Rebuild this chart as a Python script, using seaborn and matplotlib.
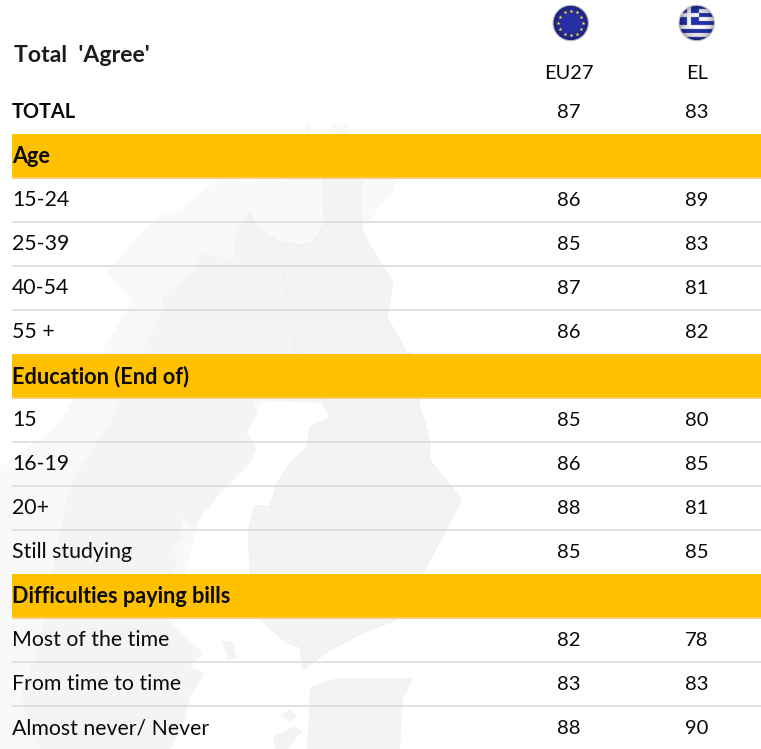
# chart: Total 'Agree' table, EU27 vs EL
import numpy as np
import pandas as pd
import seaborn as sns
import matplotlib.pyplot as plt
from matplotlib.colors import ListedColormap
from matplotlib.patches import Circle, Polygon

sns.set_theme(style="white")
plt.rcParams['font.family'] = ['Lato', 'DejaVu Sans']

# data
title = "Total  'Agree'"
countries = ['EU27', 'EL']
rows = ['TOTAL', 'Age', '15-24', '25-39', '40-54', '55 +', 'Education (End of)', '15', '16-19', '20+',
        'Still studying', 'Difficulties paying bills', 'Most of the time', 'From time to time',
        'Almost never/ Never']
sections = ['Age', 'Education (End of)', 'Difficulties paying bills']
eu27 = [87, None, 86, 85, 87, 86, None, 85, 86, 88, 85, None, 82, 83, 88]
el = [83, None, 89, 83, 81, 82, None, 80, 85, 81, 85, None, 78, 83, 90]

# background map outlines (image pixels), only decoration
land = [(250, 182), (300, 178), (397, 178), (393, 190), (387, 200), (362, 227), (293, 350), (205, 500), (150, 700),
        (110, 749), (0, 749), (0, 467), (53, 430), (67, 410), (107, 343), (133, 300), (107, 273), (137, 237),
        (157, 217), (180, 210), (213, 183)]
sweden = [(248, 213), (267, 250), (283, 270), (288, 300), (297, 327), (293, 350), (330, 377), (323, 403), (253, 400),
          (257, 413), (247, 433), (257, 450), (247, 467), (217, 497), (193, 527), (180, 517), (183, 537), (172, 547),
          (178, 560), (173, 573), (167, 620), (203, 653), (190, 667), (205, 673), (190, 697), (183, 727), (170, 749),
          (40, 749), (20, 700), (40, 640), (67, 497), (77, 473), (110, 423), (120, 400), (143, 350), (160, 317),
          (163, 297), (193, 270), (200, 253), (233, 260), (237, 227)]
finland = [(323, 178), (362, 178), (362, 227), (365, 237), (393, 283), (387, 317), (407, 353), (413, 353), (420, 407),
           (430, 440), (430, 460), (462, 500), (423, 573), (397, 620), (363, 633), (330, 650), (303, 670), (300, 647),
           (287, 643), (257, 617), (250, 573), (248, 530), (255, 505), (270, 507), (277, 483), (290, 463), (307, 447),
           (310, 427), (330, 417), (323, 403), (330, 377), (293, 350), (297, 327), (288, 300), (283, 270), (267, 250),
           (248, 213), (263, 232), (280, 242), (300, 245), (313, 243), (325, 223), (323, 197)]
estonia = [(310, 687), (337, 678), (413, 678), (403, 700), (400, 749), (307, 749)]
islands = [[(273, 737), (293, 727), (303, 730), (287, 749), (275, 749)],
           [(280, 715), (290, 709), (297, 716), (289, 722)],
           [(222, 640), (232, 642), (237, 658), (228, 660)]]
north_bits = [[(305, 128), (309, 123), (311, 130), (307, 134)],
              [(325, 134), (333, 125), (347, 124), (352, 134)]]

W, H = 761, 749
fig = plt.figure(figsize=(W / 100, H / 100), dpi=100)


def box(x0, y0, x1, y1):
    return [x0 / W, 1 - y1 / H, (x1 - x0) / W, (y1 - y0) / H]


# map + flags, axes in image pixels
ax_map = fig.add_axes([0, 0, 1, 1], zorder=0)
ax_map.axis('off')
ax_map.add_patch(Polygon(land, fc='#f9f9f9', ec='none'))
ax_map.add_patch(Polygon(sweden, fc='#f4f4f4', ec='none'))
ax_map.add_patch(Polygon(finland, fc='#f3f3f3', ec='#eeeeee', lw=0.5))
ax_map.add_patch(Polygon(estonia, fc='#f3f3f3', ec='none'))
for isl in islands:
    ax_map.add_patch(Polygon(isl, fc='#f3f3f3', ec='none'))
for isl in north_bits:
    ax_map.add_patch(Polygon(isl, fc='#f9f9f9', ec='none'))


def flag(img, cx, cy, r):
    # darken towards the rim so it looks like a ball
    n = img.shape[0]
    yy, xx = np.mgrid[-1:1:n * 1j, -1:1:n * 1j]
    d = np.clip(np.sqrt(xx ** 2 + yy ** 2), 0, 1)
    shade = (1 - 0.35 * d ** 3)[..., None]
    im = ax_map.imshow(img * shade, extent=(cx - r, cx + r, cy + r, cy - r), aspect='auto', zorder=3)
    im.set_clip_path(Circle((cx, cy), r, transform=ax_map.transData))
    ax_map.add_patch(Circle((cx, cy), r, fc='none', ec='#b9bdd0', lw=0.8, zorder=4))


navy = np.array([0.16, 0.19, 0.66])
eu_img = np.ones((90, 90, 3)) * navy
flag(eu_img, 570.7, 23, 17.7)
ang = np.deg2rad(np.arange(0, 360, 30))
ax_map.scatter(570.7 + 12.3 * np.cos(ang), 23 + 12.3 * np.sin(ang), marker='*', s=9, color='#f2dc3a', lw=0, zorder=5)

blue = np.array([0.14, 0.2, 0.66])
gr_img = np.ones((90, 90, 3))
for k in range(90):
    if int(k / 10) % 2 == 0:
        gr_img[k, :] = blue
gr_img[:50, :50] = blue
gr_img[20:30, :50] = 1
gr_img[:50, 20:30] = 1
flag(gr_img, 696.7, 23, 17.7)

ax_map.set_xlim(0, W)
ax_map.set_ylim(H, 0)
ax_map.text(14, 56, title, fontsize=16.6, fontweight='bold', color='#1c1c1c', va='center', ha='left')

# row bands, rules and labels
ax_rows = fig.add_axes(box(12, 90, 761, 750), zorder=1)
ax_rows.patch.set_alpha(0)
ax_rows.axis('off')
ax_rows.set_xlim(0, 1)
ax_rows.set_ylim(len(rows), 0)
for i, name in enumerate(rows):
    bold = name in sections or name == 'TOTAL'
    if name in sections:
        ax_rows.axhspan(i, i + 1, color='#FFC000', lw=0)
        ax_rows.axhline(i + 1, color='#FFCB70', lw=1.4)
    elif i > 0 and i + 1 < len(rows) and rows[i + 1] not in sections:
        ax_rows.axhline(i + 1, color='#DFDAD6', lw=1.2)
    size = 14.4 if name == 'TOTAL' else 15.6 if bold else 15.3
    ax_rows.text(0, i + 0.51, name, fontsize=size, color='#0a0a0a', va='center', ha='left',
                 fontweight='bold' if bold else 'normal')

# values
df = pd.DataFrame({countries[0]: eu27, countries[1]: el}, index=rows, dtype=float)
ax_vals = fig.add_axes(box(505, 90.6, 761, 750.6), zorder=2)
ax_vals.patch.set_alpha(0)
sns.heatmap(df, ax=ax_vals, annot=True, fmt='.0f', cbar=False, cmap=ListedColormap([(0, 0, 0, 0)]),
            yticklabels=False, annot_kws={'fontsize': 14.6, 'color': '#0a0a0a'})
ax_vals.xaxis.tick_top()
ax_vals.tick_params(axis='x', length=0, pad=6.5, labelsize=14.4, labelcolor='#0a0a0a', labelrotation=0)
ax_vals.set_xlabel('')
ax_vals.set_ylabel('')

fig.savefig('out.png', dpi=100)
